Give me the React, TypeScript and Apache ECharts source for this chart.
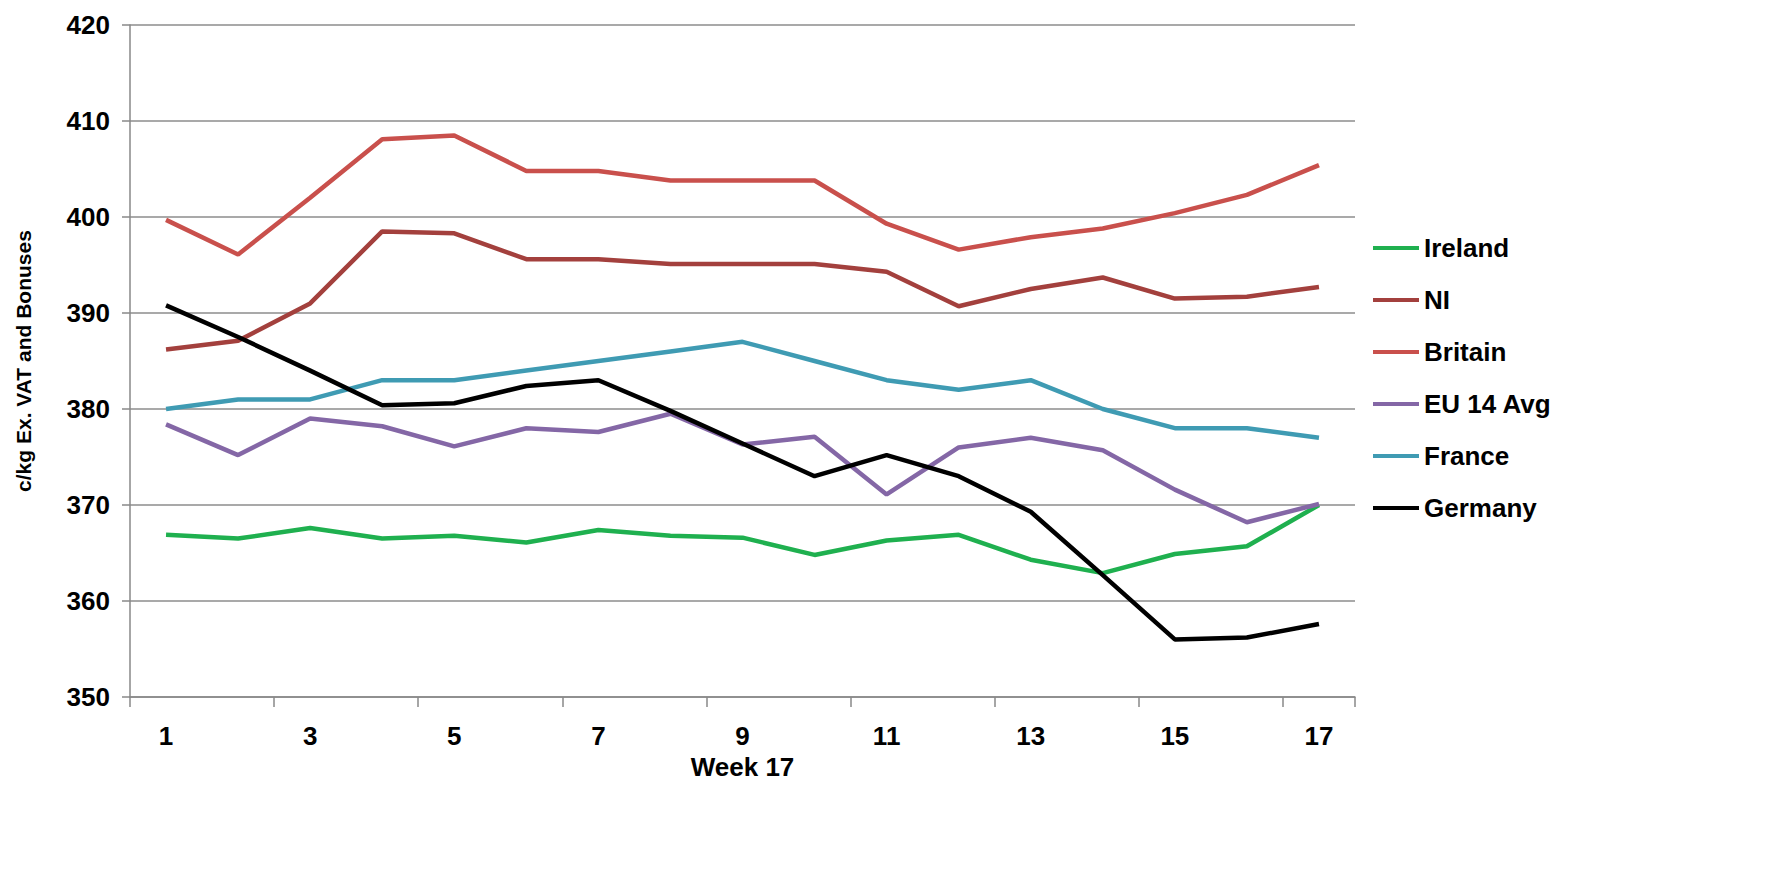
import { useEffect, useRef } from 'react';
import * as echarts from 'echarts';

const weeks = ['1','2','3','4','5','6','7','8','9','10','11','12','13','14','15','16','17'];
const ireland = [366.9, 366.5, 367.6, 366.5, 366.8, 366.1, 367.4, 366.8, 366.6, 364.8, 366.3, 366.9, 364.3, 362.9, 364.9, 365.7, 370];
const ni = [386.2, 387.1, 391, 398.5, 398.3, 395.6, 395.6, 395.1, 395.1, 395.1, 394.3, 390.7, 392.5, 393.7, 391.5, 391.7, 392.7];
const britain = [399.7, 396.1, 402, 408.1, 408.5, 404.8, 404.8, 403.8, 403.8, 403.8, 399.3, 396.6, 397.9, 398.8, 400.4, 402.3, 405.4];
const eu14 = [378.4, 375.2, 379, 378.2, 376.1, 378, 377.6, 379.5, 376.3, 377.1, 371.1, 376, 377, 375.7, 371.6, 368.2, 370.1];
const france = [380, 381, 381, 383, 383, 384, 385, 386, 387, 385, 383, 382, 383, 380, 378, 378, 377];
const germany = [390.8, 387.5, 384, 380.4, 380.6, 382.4, 383, 379.8, 376.4, 373, 375.2, 373, 369.3, 362.7, 356, 356.2, 357.6];

const seriesDefs = [
  { name: 'Ireland', data: ireland, color: '#1fb04f' },
  { name: 'NI', data: ni, color: '#a3403d' },
  { name: 'Britain', data: britain, color: '#c9504c' },
  { name: 'EU 14 Avg', data: eu14, color: '#8467a6' },
  { name: 'France', data: france, color: '#3f9bb3' },
  { name: 'Germany', data: germany, color: '#000000' },
];

export default function App() {
  const ref = useRef<HTMLDivElement>(null);

  useEffect(() => {
    document.body.style.margin = '0';
    if (!ref.current) return;
    const chart = echarts.init(ref.current, undefined, { renderer: 'svg' });
    const font = 'Liberation Sans';
    chart.setOption({
      animation: false,
      backgroundColor: '#ffffff',
      grid: { left: 130, right: 410, top: 25, bottom: 175 },
      legend: {
        orient: 'vertical',
        left: 1368,
        top: 230,
        itemGap: 26,
        itemWidth: 46,
        itemHeight: 30,
        data: seriesDefs.map(s => ({ name: s.name, icon: 'path://M0,13L46,13L46,17L0,17Z' })),
        textStyle: { fontFamily: font, fontWeight: 'bold', fontSize: 26, color: '#000' },
      },
      xAxis: {
        type: 'category',
        data: weeks,
        boundaryGap: true,
        name: 'Week 17',
        nameLocation: 'middle',
        nameGap: 56,
        nameTextStyle: { fontFamily: font, fontWeight: 'bold', fontSize: 26, color: '#000' },
        axisLine: { lineStyle: { color: '#888', width: 1.5 } },
        axisTick: { show: true, interval: 1, length: 10, lineStyle: { color: '#888', width: 1.5 } },
        axisLabel: { interval: 1, margin: 26, fontFamily: font, fontWeight: 'bold', fontSize: 26, color: '#000' },
      },
      yAxis: {
        type: 'value',
        min: 350,
        max: 420,
        interval: 10,
        name: 'c/kg Ex. VAT and Bonuses',
        nameLocation: 'middle',
        nameGap: 96,
        nameTextStyle: { fontFamily: font, fontWeight: 'bold', fontSize: 21, color: '#000' },
        axisLine: { show: true, lineStyle: { color: '#888', width: 1.5 } },
        axisTick: { show: true, length: 8, lineStyle: { color: '#888', width: 1.5 } },
        axisLabel: { margin: 20, fontFamily: font, fontWeight: 'bold', fontSize: 26, color: '#000' },
        splitLine: { lineStyle: { color: '#8c8c8c', width: 1.5 } },
      },
      series: seriesDefs.map(s => ({
        name: s.name,
        type: 'line',
        data: s.data,
        symbol: 'none',
        color: s.color,
        lineStyle: { width: 4.5, color: s.color },
      })),
    });
    return () => chart.dispose();
  }, []);

  return <div ref={ref} style={{ width: 1765, height: 872 }} />;
}
